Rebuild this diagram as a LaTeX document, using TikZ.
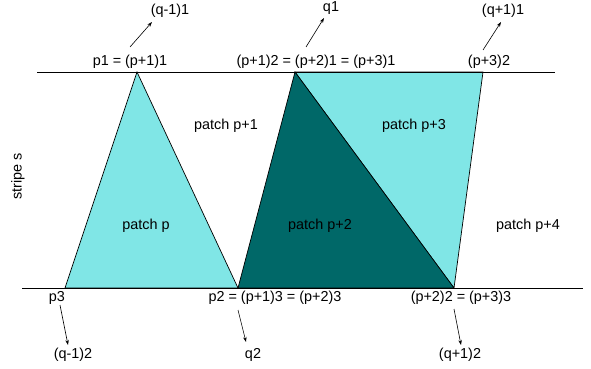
\documentclass[tikz,border=0pt]{standalone}
\usepackage{fontspec}
\setmainfont{Liberation Sans}
\usetikzlibrary{arrows.meta}
\definecolor{lcyan}{RGB}{128,230,230}
\definecolor{dteal}{RGB}{0,104,104}
\begin{document}
\begin{tikzpicture}[x=1pt,y=-1pt,
  lbl/.style={font=\fontsize{14.4}{16}\selectfont, inner sep=0pt},
  arr/.style={-{Stealth[length=5pt,width=3.5pt]}, line width=0.6pt},
  patchline/.style={line width=0.7pt, line join=miter}]
\useasboundingbox (0,0) rectangle (591,369);
% points
\coordinate (A) at (137,72);
\coordinate (B) at (65,288);
\coordinate (C) at (238,288);
\coordinate (D) at (295,72);
\coordinate (E) at (483,72);
\coordinate (F) at (454,288);
% patches
\filldraw[fill=lcyan, patchline] (A) -- (B) -- (C) -- cycle;
\filldraw[fill=lcyan, patchline] (D) -- (E) -- (F) -- cycle;
\filldraw[fill=dteal, patchline] (D) -- (C) -- (F) -- cycle;
% stripe lines
\coordinate (TL) at (37,72);
\coordinate (TR) at (555,72);
\coordinate (BL) at (22,288);
\coordinate (BR) at (583,288);
\draw[line width=0.8pt] (TL) -- (TR);
\draw[line width=0.8pt] (BL) -- (BR);
% patch labels
\node[lbl] (pp1) at (226,126) {patch p+1};
\node[lbl] (pp3) at (414,126) {patch p+3};
\node[lbl] (pp) at (146,226) {patch p};
\node[lbl] (pp2) at (320,226) {patch p+2};
\node[lbl] (pp4) at (528,226) {patch p+4};
\node[lbl, rotate=90] (stripe) at (18,176) {stripe s};
% top vertex labels
\node[lbl] (t1) at (130,62) {p1 = (p+1)1};
\node[lbl] (t2) at (316,62) {(p+1)2 = (p+2)1 = (p+3)1};
\node[lbl] (t3) at (489,62) {(p+3)2};
\node[lbl] (q11) at (170,11) {(q-1)1};
\node[lbl] (q1) at (331,8) {q1};
\node[lbl] (q21) at (503,11) {(q+1)1};
\coordinate (a1s) at (130,47); \coordinate (a1e) at (152,22);
\coordinate (a2s) at (306,47); \coordinate (a2e) at (324,18);
\coordinate (a3s) at (483,50); \coordinate (a3e) at (501,22);
\draw[arr] (a1s) -- (a1e);
\draw[arr] (a2s) -- (a2e);
\draw[arr] (a3s) -- (a3e);
% bottom vertex labels
\node[lbl] (b1) at (57,298) {p3};
\node[lbl] (b2) at (275,298) {p2 = (p+1)3 = (p+2)3};
\node[lbl] (b3) at (461,298) {(p+2)2 = (p+3)3};
\node[lbl] (q12) at (73,355) {(q-1)2};
\node[lbl] (q2) at (253,355) {q2};
\node[lbl] (q22) at (460,355) {(q+1)2};
\coordinate (b1s) at (60,305); \coordinate (b1e) at (68,345);
\coordinate (b2s) at (238,310); \coordinate (b2e) at (246,342);
\coordinate (b3s) at (454,309); \coordinate (b3e) at (461,345);
\draw[arr] (b1s) -- (b1e);
\draw[arr] (b2s) -- (b2e);
\draw[arr] (b3s) -- (b3e);
\end{tikzpicture}
\end{document}
